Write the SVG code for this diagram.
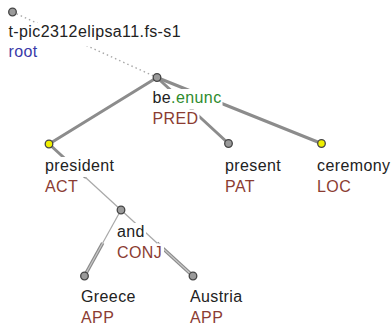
<svg xmlns="http://www.w3.org/2000/svg" width="392" height="327" viewBox="0 0 392 327">
<style>
text{font-family:"Liberation Sans",Arial,sans-serif;font-size:16px;letter-spacing:0.4px;fill:#222}
.fn{fill:#8b3c32}
.root{fill:#3a3aa8}
.grn{fill:#2e8b2e}
.bg{fill:#fff}
.n{stroke:#444;stroke-width:1.3;fill:#9a9a9a}
.y{stroke:#444;stroke-width:1.3;fill:#f0f000}
.thick{stroke:#8c8c8c;stroke-width:3;stroke-linecap:round;fill:none}
.thin{stroke:#a8a8a8;stroke-width:1.2;fill:none}
.dot{stroke:#a8a8a8;stroke-width:1.4;stroke-dasharray:1.5 3;fill:none}
.mem{stroke:#8a8a8a;stroke-width:3.6;fill:none}
.memc{stroke:#c8c8c8;stroke-width:1.2;fill:none}
</style>
<g id="connectors">
<line class="dot" x1="12.5" y1="12" x2="157" y2="77.5"/>
<line class="thick" x1="157" y1="77.5" x2="49" y2="144"/>
<line class="thick" x1="157" y1="77.5" x2="228.5" y2="143.5"/>
<line class="thick" x1="157" y1="77.5" x2="321.5" y2="143.5"/>
<line class="thick" x1="49" y1="144" x2="85" y2="177"/>
<line class="thin" x1="85" y1="177" x2="121" y2="210"/>
<line class="thin" x1="121" y1="210" x2="102.7" y2="243"/>
<line class="mem" x1="102.7" y1="243" x2="84.5" y2="276"/>
<line class="memc" x1="102.7" y1="243" x2="84.5" y2="276"/>
<line class="thin" x1="121" y1="210" x2="157" y2="243"/>
<line class="mem" x1="157" y1="243" x2="193" y2="276"/>
<line class="memc" x1="157" y1="243" x2="193" y2="276"/>
</g>
<g id="node-root">
<rect class="bg" x="7.5" y="23" width="175" height="23"/>
<rect class="bg" x="7.5" y="43" width="32" height="19"/>
<text x="8.5" y="37">t-pic2312elipsa11.fs-s1</text>
<text class="root" x="8.5" y="57">root</text>
<circle class="n" cx="12.5" cy="12" r="3.8"/>
</g>
<g id="node-be">
<rect class="bg" x="151.5" y="89" width="71" height="20"/>
<rect class="bg" x="151.5" y="109.5" width="48" height="20"/>
<text x="152.5" y="103">be<tspan class="grn">.enunc</tspan></text>
<text class="fn" x="152.5" y="123.5">PRED</text>
<circle class="n" cx="157" cy="77.5" r="3.8"/>
</g>
<g id="node-president">
<rect class="bg" x="44" y="157" width="70" height="20"/>
<rect class="bg" x="44" y="177.5" width="35" height="20"/>
<text x="45" y="171">president</text>
<text class="fn" x="45" y="191.5">ACT</text>
<circle class="y" cx="49" cy="144" r="3.8"/>
</g>
<g id="node-present">
<rect class="bg" x="224" y="157" width="57" height="20"/>
<rect class="bg" x="224" y="177.5" width="34" height="20"/>
<text x="225" y="171">present</text>
<text class="fn" x="225" y="191.5">PAT</text>
<circle class="n" cx="228.5" cy="143.5" r="3.8"/>
</g>
<g id="node-ceremony">
<rect class="bg" x="316" y="157" width="74" height="20"/>
<rect class="bg" x="316" y="177.5" width="36" height="20"/>
<text x="317" y="171">ceremony</text>
<text class="fn" x="317" y="191.5">LOC</text>
<circle class="y" cx="321.5" cy="143.5" r="3.8"/>
</g>
<g id="node-and">
<rect class="bg" x="116" y="223" width="30" height="20"/>
<rect class="bg" x="116" y="243.5" width="48" height="20"/>
<text x="117" y="237">and</text>
<text class="fn" x="117" y="257.5">CONJ</text>
<circle class="n" cx="121" cy="210" r="3.8"/>
</g>
<g id="node-greece">
<rect class="bg" x="80" y="288" width="56" height="20"/>
<rect class="bg" x="80" y="308.5" width="35" height="18.5"/>
<text x="81" y="302">Greece</text>
<text class="fn" x="81" y="322.5">APP</text>
<circle class="n" cx="84.5" cy="276" r="3.8"/>
</g>
<g id="node-austria">
<rect class="bg" x="189" y="288" width="54" height="20"/>
<rect class="bg" x="189" y="308.5" width="35" height="18.5"/>
<text x="190" y="302">Austria</text>
<text class="fn" x="190" y="322.5">APP</text>
<circle class="n" cx="193" cy="276" r="3.8"/>
</g>
</svg>
